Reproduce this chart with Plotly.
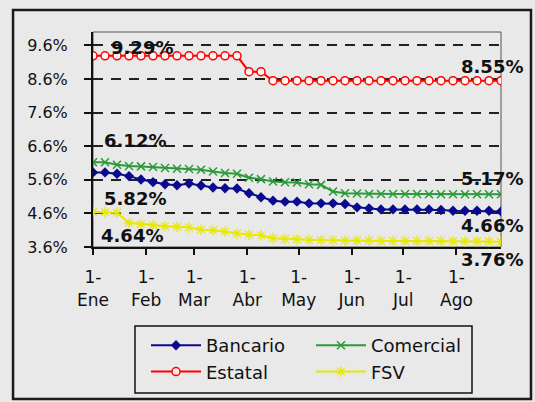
import pandas as pd
import plotly.graph_objects as go

# ---- data (weekly) ----
dates = pd.date_range("2003-01-01", periods=35, freq="7D")

bancario = [5.82, 5.82, 5.78, 5.71, 5.61, 5.53, 5.47, 5.44, 5.49, 5.43,
            5.37, 5.35, 5.34, 5.20, 5.08, 4.98, 4.95, 4.95, 4.90, 4.90,
            4.90, 4.88, 4.78, 4.75, 4.72, 4.72, 4.72, 4.72, 4.72, 4.70,
            4.68, 4.68, 4.68, 4.68, 4.66]
comercial = [6.12, 6.12, 6.05, 6.01, 6.00, 5.98, 5.95, 5.93, 5.92, 5.90,
             5.85, 5.80, 5.78, 5.66, 5.62, 5.55, 5.53, 5.52, 5.47, 5.45,
             5.25, 5.20, 5.19, 5.18, 5.18, 5.18, 5.18, 5.18, 5.17, 5.17,
             5.17, 5.17, 5.17, 5.17, 5.17]
estatal = [9.29, 9.29, 9.29, 9.29, 9.29, 9.29, 9.29, 9.29, 9.29, 9.29,
           9.29, 9.29, 9.29, 8.82, 8.82, 8.55, 8.55, 8.55, 8.55, 8.55,
           8.55, 8.55, 8.55, 8.55, 8.55, 8.55, 8.55, 8.55, 8.55, 8.55,
           8.55, 8.55, 8.55, 8.55, 8.55]
fsv = [4.64, 4.64, 4.62, 4.32, 4.28, 4.25, 4.22, 4.20, 4.18, 4.12,
       4.10, 4.06, 4.00, 3.97, 3.95, 3.86, 3.84, 3.82, 3.81, 3.80,
       3.80, 3.79, 3.79, 3.79, 3.78, 3.78, 3.78, 3.78, 3.78, 3.78,
       3.77, 3.77, 3.77, 3.77, 3.76]

month_ticks = ["2003-01-01", "2003-02-01", "2003-03-01", "2003-04-01",
               "2003-05-01", "2003-06-01", "2003-07-01", "2003-08-01"]
month_labels = ["1-<br>Ene", "1-<br>Feb", "1-<br>Mar", "1-<br>Abr",
                "1-<br>May", "1-<br>Jun", "1-<br>Jul", "1-<br>Ago"]
y_ticks = [3.6, 4.6, 5.6, 6.6, 7.6, 8.6, 9.6]
y_labels = ["3.6%", "4.6%", "5.6%", "6.6%", "7.6%", "8.6%", "9.6%"]

BG = "#e9e9e9"
FONT = "DejaVu Sans"
W, H = 535, 402

fig = go.Figure()
fig.add_trace(go.Scatter(
    x=dates, y=bancario, name="Bancario", mode="lines+markers",
    line=dict(color="#0a0a90", width=2),
    marker=dict(symbol="diamond", size=8, color="#0a0a90")))
fig.add_trace(go.Scatter(
    x=dates, y=comercial, name="Comercial", mode="lines+markers",
    line=dict(color="#2a9a3a", width=2),
    marker=dict(symbol="x-thin-open", size=8, color="#2a9a3a",
                line=dict(color="#2a9a3a", width=1.5))))
fig.add_trace(go.Scatter(
    x=dates, y=estatal, name="Estatal", mode="lines+markers",
    line=dict(color="#ff0000", width=2),
    marker=dict(symbol="circle", size=8, color="#fff4f4",
                line=dict(color="#ff0000", width=1.5))))
fig.add_trace(go.Scatter(
    x=dates, y=fsv, name="FSV", mode="lines+markers",
    line=dict(color="#e8e800", width=2),
    marker=dict(symbol="asterisk-open", size=9, color="#e8e800",
                line=dict(color="#e8e800", width=1.2))))

# data labels at first / last points
lab_font = dict(family=FONT, size=18, color="#111111")
first_labels = [(bancario, 9, -26), (comercial, 9, 22), (estatal, 16, 8), (fsv, 6, -23)]
for series, dx, dy in first_labels:
    fig.add_annotation(x=dates[0], y=series[0], text=f"<b>{series[0]:.2f}%</b>",
                       showarrow=False, xanchor="left", yanchor="middle",
                       xshift=dx, yshift=dy, font=lab_font)
last_labels = [(bancario, -14), (comercial, 16), (estatal, 14), (fsv, -18)]
for series, dy in last_labels:
    fig.add_annotation(x=dates[-1], y=series[-1], text=f"<b>{series[-1]:.2f}%</b>",
                       showarrow=False, xanchor="right", yanchor="middle",
                       xshift=24, yshift=dy, font=lab_font)

# outer chart frame, plot-area border and legend box
fig.add_shape(type="rect", xref="paper", yref="paper",
              x0=-0.196, x1=1.0735, y0=-0.707, y1=1.102,
              line=dict(color="#1a1a1a", width=2.5))
fig.add_shape(type="rect", xref="paper", yref="paper",
              x0=0, x1=1, y0=0, y1=1,
              line=dict(color="#555555", width=1), layer="below")
fig.add_shape(type="rect", xref="paper", yref="paper",
              x0=(135 - 93) / 408, x1=(472 - 93) / 408,
              y0=(247 - 393) / 215, y1=(247 - 326) / 215,
              line=dict(color="#111111", width=1.5))

fig.update_layout(
    width=W, height=H,
    margin=dict(l=93, r=34, t=32, b=155, autoexpand=False),
    paper_bgcolor=BG, plot_bgcolor=BG,
    font=dict(family=FONT, size=17, color="#111111"),
    showlegend=True,
    legend=dict(
        orientation="h", xref="container", yref="container",
        x=146 / W, y=1 - 327 / H, xanchor="left", yanchor="top",
        bgcolor="rgba(0,0,0,0)", borderwidth=0,
        font=dict(family=FONT, size=18, color="#111111"),
        itemwidth=50, entrywidth=100, traceorder="normal"),
)
fig.update_xaxes(
    range=["2003-01-01", "2003-08-27"], automargin=False,
    tickmode="array", tickvals=month_ticks, ticktext=month_labels,
    showgrid=False, zeroline=False,
    showline=True, linecolor="#111111", linewidth=2,
    ticks="outside", ticklen=6, tickwidth=1.5, tickcolor="#111111",
    ticklabelstandoff=8, tickfont=dict(family=FONT, size=17))
fig.update_yaxes(
    range=[3.6, 10.0], automargin=False,
    tickmode="array", tickvals=y_ticks, ticktext=y_labels,
    showgrid=True, gridcolor="#222222", gridwidth=1.6, griddash="10px,8px",
    zeroline=False,
    showline=True, linecolor="#111111", linewidth=2,
    ticks="outside", ticklen=7, tickwidth=1.5, tickcolor="#111111",
    ticklabelstandoff=13, tickfont=dict(family=FONT, size=16))

fig.write_html(
    "out.html",
    config={"displayModeBar": False},
    post_script="document.body.style.margin='0px';"
                "document.body.style.background='#e9e9e9';"
                "document.body.style.overflow='hidden';")
